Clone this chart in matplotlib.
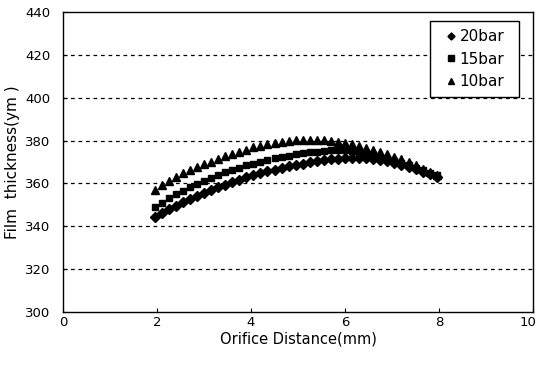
import matplotlib
matplotlib.use("Agg")
import matplotlib.pyplot as plt
from matplotlib.patches import Rectangle
from matplotlib.transforms import ScaledTranslation

x_mm = [1.95, 2.10, 2.25, 2.40, 2.55, 2.70, 2.85, 3.00, 3.15, 3.30, 3.45, 3.60, 3.75, 3.90,
        4.05, 4.20, 4.35, 4.50, 4.65, 4.80, 4.95, 5.10, 5.25, 5.40, 5.55, 5.70, 5.85, 6.00,
        6.15, 6.30, 6.45, 6.60, 6.75, 6.90, 7.05, 7.20, 7.35, 7.50, 7.65, 7.80, 7.95]

bar20 = [344.5, 346.3, 348.0, 349.7, 351.3, 352.8, 354.3, 355.7, 357.0, 358.3, 359.5, 360.7,
         361.8, 362.9, 363.9, 364.8, 365.7, 366.5, 367.3, 368.0, 368.7, 369.3, 369.9, 370.4,
         370.9, 371.3, 371.6, 371.8, 371.9, 371.9, 371.7, 371.4, 370.9, 370.3, 369.6, 368.7,
         367.7, 366.6, 365.4, 364.2, 363.0]

bar15 = [349.0, 351.0, 353.0, 354.9, 356.6, 358.3, 359.9, 361.3, 362.7, 364.0, 365.2, 366.3,
         367.4, 368.4, 369.3, 370.2, 371.0, 371.7, 372.4, 373.0, 373.6, 374.1, 374.5, 374.9,
         375.2, 375.4, 375.5, 375.4, 375.1, 374.6, 374.0, 373.3, 372.5, 371.6, 370.6, 369.5,
         368.4, 367.3, 366.2, 365.1, 364.0]

bar10 = [357.0, 359.2, 361.2, 363.0, 364.7, 366.2, 367.6, 368.9, 370.1, 371.2, 372.6, 373.7,
         374.6, 375.6, 376.8, 377.6, 378.3, 378.9, 379.4, 379.8, 380.1, 380.3, 380.4, 380.4,
         380.2, 379.9, 379.4, 378.8, 378.2, 377.5, 376.7, 375.8, 374.8, 373.7, 372.5, 371.2,
         369.8, 368.4, 366.9, 365.4, 364.0]

labels = ["20bar", "15bar", "10bar"]
x_ticks = [0, 2, 4, 6, 8, 10]
y_ticks = [300, 320, 340, 360, 380, 400, 420, 440]

plt.rcParams['font.family'] = ['DejaVu Sans']

fig = plt.figure(figsize=(5.38, 3.66), dpi=100)
ax = fig.add_axes([0.117, 0.1475, 0.874, 0.8195])

ax.plot(x_mm, bar20, linestyle='none', marker='D', markersize=4.8, color='black', label=labels[0])
ax.plot(x_mm, bar15, linestyle='none', marker='s', markersize=5.0, color='black', label=labels[1])
ax.plot(x_mm, bar10, linestyle='none', marker='^', markersize=6.2, color='black', label=labels[2])

ax.set_xlim(0, 10)
ax.set_ylim(300, 440)
ax.set_xticks(x_ticks)
ax.set_yticks(y_ticks)
ax.tick_params(direction='in', length=3, width=0.8, labelsize=9.5, colors='black')
ax.tick_params(axis='x', pad=3)
ax.tick_params(axis='y', pad=9)
for y in y_ticks[1:-1]:
    ax.axhline(y, color='black', linestyle=(0, (3, 3)), linewidth=0.9, zorder=0)
for s in ax.spines.values():
    s.set_linewidth(1.0)
    s.set_color('black')

# nudge the last x tick label so it stays inside the figure
last_lbl = ax.get_xticklabels()[-1]
last_lbl.set_transform(last_lbl.get_transform() + ScaledTranslation(-4 / 72, 0, fig.dpi_scale_trans))

ax.set_xlabel('Orifice Distance(mm)', fontsize=10.5, labelpad=2)
ax.set_ylabel('Film  thickness(ym )', fontsize=11, labelpad=4)

# legend box frame (axes coords)
bx0, bx1 = (430 - 63) / 470, (519 - 63) / 470
by0, by1 = (312 - 97) / 300, (312 - 21) / 300
ax.add_patch(Rectangle((bx0, by0), bx1 - bx0, by1 - by0, transform=ax.transAxes,
                       facecolor='white', edgecolor='black', linewidth=1.0, zorder=4))
leg = ax.legend(loc='center', bbox_to_anchor=((bx0 + bx1) / 2 + 0.002, (by0 + by1) / 2),
                fontsize=11, frameon=False, handlelength=0.5, handletextpad=0.35,
                borderpad=0.2, labelspacing=0.5, markerscale=0.75)
leg.set_zorder(5)

fig.savefig('out.png', dpi=100)
